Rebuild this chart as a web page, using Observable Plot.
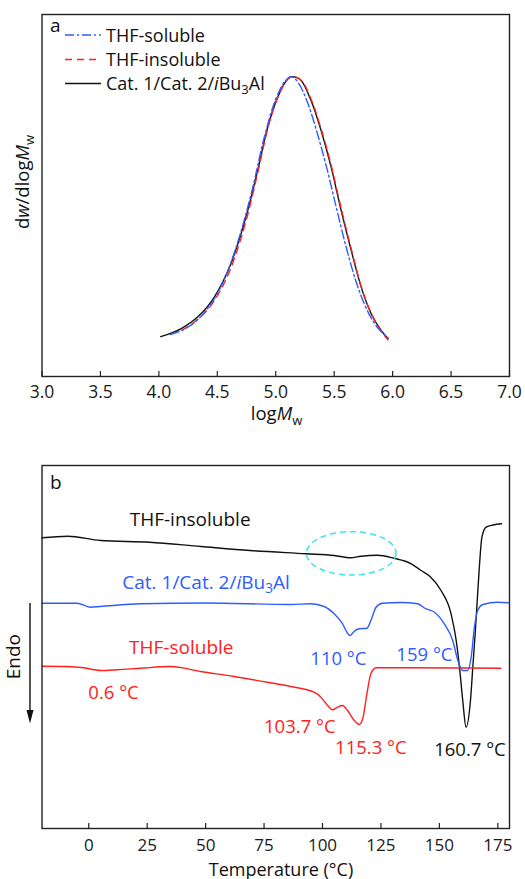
<!DOCTYPE html>
<html>
<head>
<meta charset="utf-8">
<script src="https://cdn.jsdelivr.net/npm/d3@7"></script>
<script src="https://cdn.jsdelivr.net/npm/@observablehq/plot@0.6"></script>
<style>
html,body{margin:0;padding:0;background:#fff;}
#chart{width:525px;height:879px;overflow:hidden;}
#chart svg{display:block;}
</style>
</head>
<body>
<div id="chart"></div>
<script>
// ================= Panel a : GPC (dw/dlogMw vs logMw) =================
const logMTicks = [3.0, 3.5, 4.0, 4.5, 5.0, 5.5, 6.0, 6.5, 7.0];

const catalystLogM = [4.016, 4.188, 4.331, 4.473, 4.616, 4.760, 4.845, 4.931, 5.017, 5.103, 5.145, 5.217, 5.302, 5.388, 5.474, 5.560, 5.646, 5.731, 5.817, 5.903, 5.960];
const catalystW    = [0.133, 0.159, 0.198, 0.264, 0.376, 0.553, 0.687, 0.831, 0.931, 0.992, 1.000, 0.987, 0.920, 0.820, 0.698, 0.553, 0.420, 0.298, 0.209, 0.153, 0.127];

const insolubleLogM = [4.200, 4.331, 4.473, 4.616, 4.760, 4.845, 4.931, 5.017, 5.103, 5.145, 5.217, 5.302, 5.388, 5.474, 5.560, 5.646, 5.731, 5.817, 5.903, 5.960];
const insolubleW    = [0.155, 0.190, 0.252, 0.362, 0.540, 0.678, 0.826, 0.930, 0.992, 1.000, 0.988, 0.925, 0.826, 0.705, 0.560, 0.425, 0.300, 0.210, 0.152, 0.122];

const solubleLogM = [4.10, 4.25, 4.40, 4.55, 4.70, 4.80, 4.90, 5.00, 5.08, 5.13, 5.20, 5.28, 5.36, 5.44, 5.52, 5.60, 5.68, 5.76, 5.84, 5.90, 5.96];
const solubleW    = [0.140, 0.165, 0.218, 0.315, 0.480, 0.625, 0.795, 0.925, 0.985, 1.000, 0.975, 0.905, 0.805, 0.690, 0.560, 0.435, 0.325, 0.240, 0.180, 0.150, 0.130];

const legendNames = ["THF-soluble", "THF-insoluble", "Cat. 1/Cat. 2/iBu3Al"];

// ================= Panel b : DSC curves =================
const tempTicks = [0, 25, 50, 75, 100, 125, 150, 175];

const insolubleT = [-20, -9, 5, 26, 48, 69, 93, 105, 112, 116.5, 123.5, 130.5, 138, 142.2, 146, 150.7, 155, 157.2, 158.6, 160.0, 161.4, 163.3, 164.3, 165.3, 166.2, 167.1, 168.2, 170, 173, 176.6];
const insolubleH = [290.7, 292.3, 288, 286.3, 282, 278, 274.7, 273, 270.7, 272.3, 273.3, 270.3, 264.7, 258, 252, 238, 214.7, 188, 161.3, 128, 101.3, 128, 161.3, 194.7, 228, 261.3, 291.3, 301.3, 303.5, 304.7];

const catalystT = [-20, -5, 0.7, 5, 22.2, 50, 86.4, 95, 100.7, 105, 108.6, 110.7, 111.8, 113.6, 115.7, 119, 120.7, 122.9, 125.7, 133.6, 140.7, 144, 147.9, 152.1, 155.7, 157.9, 160, 162.1, 163.6, 165, 166.4, 168.6, 175, 179.5];
const catalystH = [225.3, 225.3, 221.3, 222, 224.7, 225.5, 224, 224.7, 222, 214.7, 204.7, 195.3, 193, 197.3, 199.7, 200.3, 208, 221.3, 225.3, 226, 224.7, 220, 216.3, 204.7, 188, 168, 158, 158, 171.3, 201.3, 218, 224, 226.3, 225.7];

const solubleT = [-20, -9.3, -2.1, 5, 12.2, 22.2, 35, 47.9, 62.1, 76.4, 86.4, 96.4, 99.3, 102.2, 104.3, 106.4, 108.6, 110.7, 113.6, 115.7, 117.2, 119, 120.7, 122.9, 133.6, 176.3];
const solubleH = [162.3, 162, 160.7, 158, 158.7, 160.3, 162, 157, 152, 146.3, 142, 136.3, 131.3, 123, 118.7, 121.3, 123, 118, 108, 104, 109.7, 134.7, 154.7, 160.7, 160.7, 160.3];

// peak annotations (label text, label anchor in data units, colour key)
const peakText   = ["0.6 °C", "103.7 °C", "115.3 °C", "110 °C", "159 °C", "160.7 °C"];
const peakLabelT = [10.6, 90.3, 120.7, 106.8, 143.6, 163.1];
const peakLabelH = [135, 101, 80, 169, 173, 78];
const peakSeries = ["soluble", "soluble", "soluble", "catalyst", "catalyst", "insoluble"];

// series label anchors (data units)
const seriesLabelT = [43.6, 50.4, 39.8];
const seriesLabelH = [309, 246, 181];

// highlighted region (dashed ellipse) in data units
const highlightT = [93.3, 131.7];
const highlightH = [253, 296.3];

// ================= styling =================
const FONT = "'Open Sans', 'Noto Sans', sans-serif";
const COL = {soluble: "#ff2020", catalyst: "#2f5cff", insoluble: "#111111"};
const BLUE = COL.catalyst, RED = COL.soluble, BLACK = COL.insoluble, CYAN = "#3de3ef";
const AXIS = "#222";

const rows = (xs, ys) => xs.map((x, i) => ({x, y: ys[i]}));

function catalystRich(sel, fs) {
  sel.append("tspan").text("Cat. 1/Cat. 2/");
  sel.append("tspan").attr("font-style", "italic").text("i");
  sel.append("tspan").text("Bu");
  sel.append("tspan").attr("font-size", fs * 0.72).attr("dy", fs * 0.24).text("3");
  sel.append("tspan").attr("dy", -fs * 0.24).text("Al");
}

const root = document.getElementById("chart");

// ---------------- Panel a ----------------
const A_FRAME_H = 440 - 14 - 64;
const plotA = Plot.plot({
  width: 525, height: 440,
  marginTop: 14, marginRight: 16, marginBottom: 64, marginLeft: 41.5,
  style: {fontFamily: FONT, fontSize: "17.5px", color: "#1a1a1a", background: "#fff", overflow: "visible"},
  x: {domain: [3, 7]},
  y: {domain: [0, 1.207], axis: null},
  marks: [
    Plot.ruleX(logMTicks, {stroke: AXIS, strokeWidth: 1.2, insetTop: A_FRAME_H - 5}),
    Plot.axisX(logMTicks, {tickSize: 0, tickPadding: 9, tickFormat: d => d.toFixed(1), label: null, fill: "#1a1a1a"}),
    Plot.line(rows(catalystLogM, catalystW), {x: "x", y: "y", stroke: BLACK, strokeWidth: 1.4, curve: "monotone-x"}),
    Plot.line(rows(insolubleLogM, insolubleW), {x: "x", y: "y", stroke: RED, strokeWidth: 1.4, strokeDasharray: "7,5", curve: "monotone-x"}),
    Plot.line(rows(solubleLogM, solubleW), {x: "x", y: "y", stroke: BLUE, strokeWidth: 1.4, strokeDasharray: "9,3,2,3", curve: "monotone-x"}),
    Plot.frame({stroke: AXIS, strokeWidth: 1.4})
  ]
});
root.appendChild(plotA);
{
  const svg = d3.select(plotA);
  const fs = 18;
  // panel letter
  svg.append("text").attr("x", 50).attr("y", 32).attr("text-anchor", "start").attr("font-size", 19).attr("fill", "#111").text("a");
  // x label
  const xl = svg.append("text").attr("x", 276.5).attr("y", 420).attr("text-anchor", "middle")
    .attr("font-size", 18.5).attr("fill", "#111");
  xl.append("tspan").text("log");
  xl.append("tspan").attr("font-style", "italic").text("M");
  xl.append("tspan").attr("font-size", 13).attr("dy", 4.5).text("w");
  // y label
  const yl = svg.append("text").attr("transform", "translate(29,182) rotate(-90)").attr("text-anchor", "middle")
    .attr("font-size", 18.5).attr("fill", "#111");
  yl.append("tspan").text("d");
  yl.append("tspan").attr("font-style", "italic").text("w");
  yl.append("tspan").text("/dlog");
  yl.append("tspan").attr("font-style", "italic").text("M");
  yl.append("tspan").attr("font-size", 13).attr("dy", 4.5).text("w");
  // legend
  const legStroke = [BLUE, RED, BLACK];
  const legDash = ["9,3,2,3", "7,5", null];
  const legY = [35, 59.5, 83.5];
  legendNames.forEach((name, i) => {
    svg.append("line").attr("x1", 65).attr("x2", 101).attr("y1", legY[i]).attr("y2", legY[i])
      .attr("stroke", legStroke[i]).attr("stroke-width", 1.4).attr("stroke-dasharray", legDash[i]);
    const t = svg.append("text").attr("x", 106).attr("y", legY[i] + 6.5).attr("text-anchor", "start")
      .attr("font-size", fs).attr("fill", "#111");
    if (i === 2) catalystRich(t, fs); else t.text(name);
  });
}

// ---------------- Panel b ----------------
const B_FRAME_H = 439 - 25 - 51;
const peakRows = peakText.map((text, i) => ({text, x: peakLabelT[i], y: peakLabelH[i], color: COL[peakSeries[i]]}));
const plotB = Plot.plot({
  width: 525, height: 439,
  marginTop: 25, marginRight: 16, marginBottom: 51, marginLeft: 41.5,
  style: {fontFamily: FONT, fontSize: "17px", color: "#1a1a1a", background: "#fff", overflow: "visible"},
  x: {domain: [-20, 180]},
  y: {domain: [0, 363], axis: null},
  color: {type: "identity"},
  marks: [
    Plot.ruleX(tempTicks, {stroke: AXIS, strokeWidth: 1.2, insetTop: B_FRAME_H - 5}),
    Plot.axisX(tempTicks, {tickSize: 0, tickPadding: 10, label: null, fill: "#1a1a1a"}),
    Plot.line(rows(insolubleT, insolubleH), {x: "x", y: "y", stroke: BLACK, strokeWidth: 1.4, curve: "monotone-x"}),
    Plot.line(rows(solubleT, solubleH), {x: "x", y: "y", stroke: RED, strokeWidth: 1.4, curve: "monotone-x"}),
    Plot.line(rows(catalystT, catalystH), {x: "x", y: "y", stroke: BLUE, strokeWidth: 1.4, curve: "monotone-x"}),
    Plot.text(peakRows, {x: "x", y: "y", text: "text", fill: "color", fontSize: 18.5}),
    Plot.frame({stroke: AXIS, strokeWidth: 1.4})
  ]
});
root.appendChild(plotB);
{
  const svg = d3.select(plotB);
  const xs = plotB.scale("x"), ys = plotB.scale("y");
  const fs = 19;
  svg.append("text").attr("x", 50).attr("y", 489.3 - 440).attr("text-anchor", "start").attr("font-size", 19).attr("fill", "#111").text("b");
  // series labels
  const names = ["THF-insoluble", "cat", "THF-soluble"];
  const cols = [BLACK, BLUE, RED];
  names.forEach((n, i) => {
    const t = svg.append("text").attr("x", xs.apply(seriesLabelT[i])).attr("y", ys.apply(seriesLabelH[i]) + 6.5)
      .attr("text-anchor", "middle").attr("font-size", fs).attr("fill", cols[i]);
    if (n === "cat") catalystRich(t, fs); else t.text(n);
  });
  // highlighted region
  const x0 = xs.apply(highlightT[0]), x1 = xs.apply(highlightT[1]);
  const y0 = ys.apply(highlightH[0]), y1 = ys.apply(highlightH[1]);
  svg.append("ellipse").attr("cx", (x0 + x1) / 2).attr("cy", (y0 + y1) / 2)
    .attr("rx", Math.abs(x1 - x0) / 2).attr("ry", Math.abs(y0 - y1) / 2)
    .attr("fill", "none").attr("stroke", CYAN).attr("stroke-width", 1.5).attr("stroke-dasharray", "6,4");
  // x label
  svg.append("text").attr("x", 281).attr("y", 875.5 - 440).attr("text-anchor", "middle")
    .attr("font-size", 18).attr("fill", "#111").text("Temperature (°C)");
  // Endo arrow
  svg.append("line").attr("x1", 30).attr("x2", 30).attr("y1", 603 - 440).attr("y2", 712 - 440)
    .attr("stroke", "#111").attr("stroke-width", 1.4);
  svg.append("path").attr("d", `M26.5,${710 - 440}L33.5,${710 - 440}L30,${723.5 - 440}Z`).attr("fill", "#111");
  svg.append("text").attr("transform", `translate(19.5,${656.7 - 440}) rotate(-90)`).attr("text-anchor", "middle")
    .attr("font-size", 19).attr("fill", "#111").text("Endo");
}
</script>
</body>
</html>
